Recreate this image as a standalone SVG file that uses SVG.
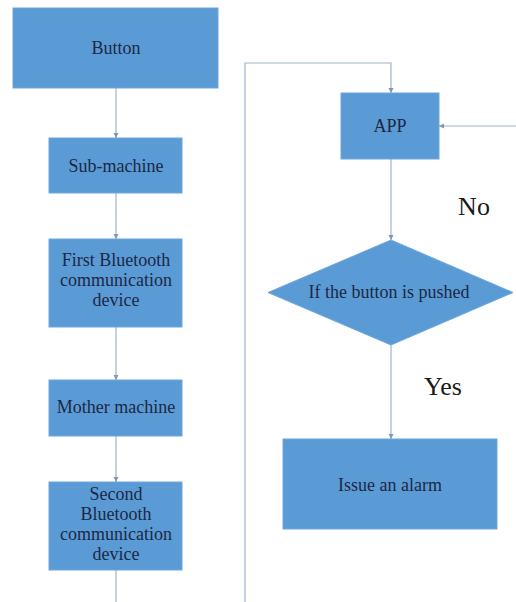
<svg xmlns="http://www.w3.org/2000/svg" width="516" height="602" viewBox="0 0 516 602">
<style>
.box{fill:#5B9BD5;stroke:#6FA6DA;stroke-width:1}
.t{font-family:'Liberation Serif','Times New Roman',serif;font-size:18px;fill:#1B2845;text-anchor:middle}
.lbl{font-family:'Liberation Serif','Times New Roman',serif;font-size:26px;fill:#1a1a1a;text-anchor:middle}
.c{fill:none;stroke:#9FB4CC;stroke-width:1.2}
</style>
<defs>
<marker id="ah" markerWidth="6" markerHeight="6" refX="5" refY="3" orient="auto" markerUnits="userSpaceOnUse">
<path d="M0,0.5 L5,3 L0,5.5 Z" fill="#7E97B4"/>
</marker>
</defs>
<rect width="516" height="602" fill="#ffffff"/>
<g id="connectors">
<path class="c" d="M116,88 V138" marker-end="url(#ah)"/>
<path class="c" d="M116,193 V239" marker-end="url(#ah)"/>
<path class="c" d="M116,327 V380" marker-end="url(#ah)"/>
<path class="c" d="M116,436 V482" marker-end="url(#ah)"/>
<path class="c" d="M116,570 V602"/>
<path class="c" d="M245,602 V63 H391 V93" marker-end="url(#ah)"/>
<path class="c" d="M516,126 H439" marker-end="url(#ah)"/>
<path class="c" d="M391,159 V240" marker-end="url(#ah)"/>
<path class="c" d="M391,345 V439" marker-end="url(#ah)"/>
</g>
<g id="button"><rect class="box" x="13" y="8" width="205" height="80"/><text class="t" x="116" y="54">Button</text></g>
<g id="sub-machine"><rect class="box" x="49" y="138" width="133" height="55"/><text class="t" x="116" y="172">Sub-machine</text></g>
<g id="first-bt"><rect class="box" x="49" y="239" width="133" height="88"/>
<text class="t" x="116" y="266">First Bluetooth</text><text class="t" x="116" y="286">communication</text><text class="t" x="116" y="306">device</text></g>
<g id="mother"><rect class="box" x="49" y="380" width="133" height="56"/><text class="t" x="116" y="413">Mother machine</text></g>
<g id="second-bt"><rect class="box" x="49" y="482" width="133" height="88"/>
<text class="t" x="116" y="500">Second</text><text class="t" x="116" y="520">Bluetooth</text><text class="t" x="116" y="540">communication</text><text class="t" x="116" y="560">device</text></g>
<g id="app"><rect class="box" x="341" y="93" width="98" height="66"/><text class="t" x="390" y="132">APP</text></g>
<g id="decision"><polygon class="box" points="391,240 513,292.5 391,345 268,292.5"/><text class="t" x="389" y="298">If the button is pushed</text></g>
<g id="alarm"><rect class="box" x="283" y="439" width="214" height="90"/><text class="t" x="390" y="491">Issue an alarm</text></g>
<text class="lbl" x="474" y="215">No</text>
<text class="lbl" x="443" y="395">Yes</text>
</svg>
